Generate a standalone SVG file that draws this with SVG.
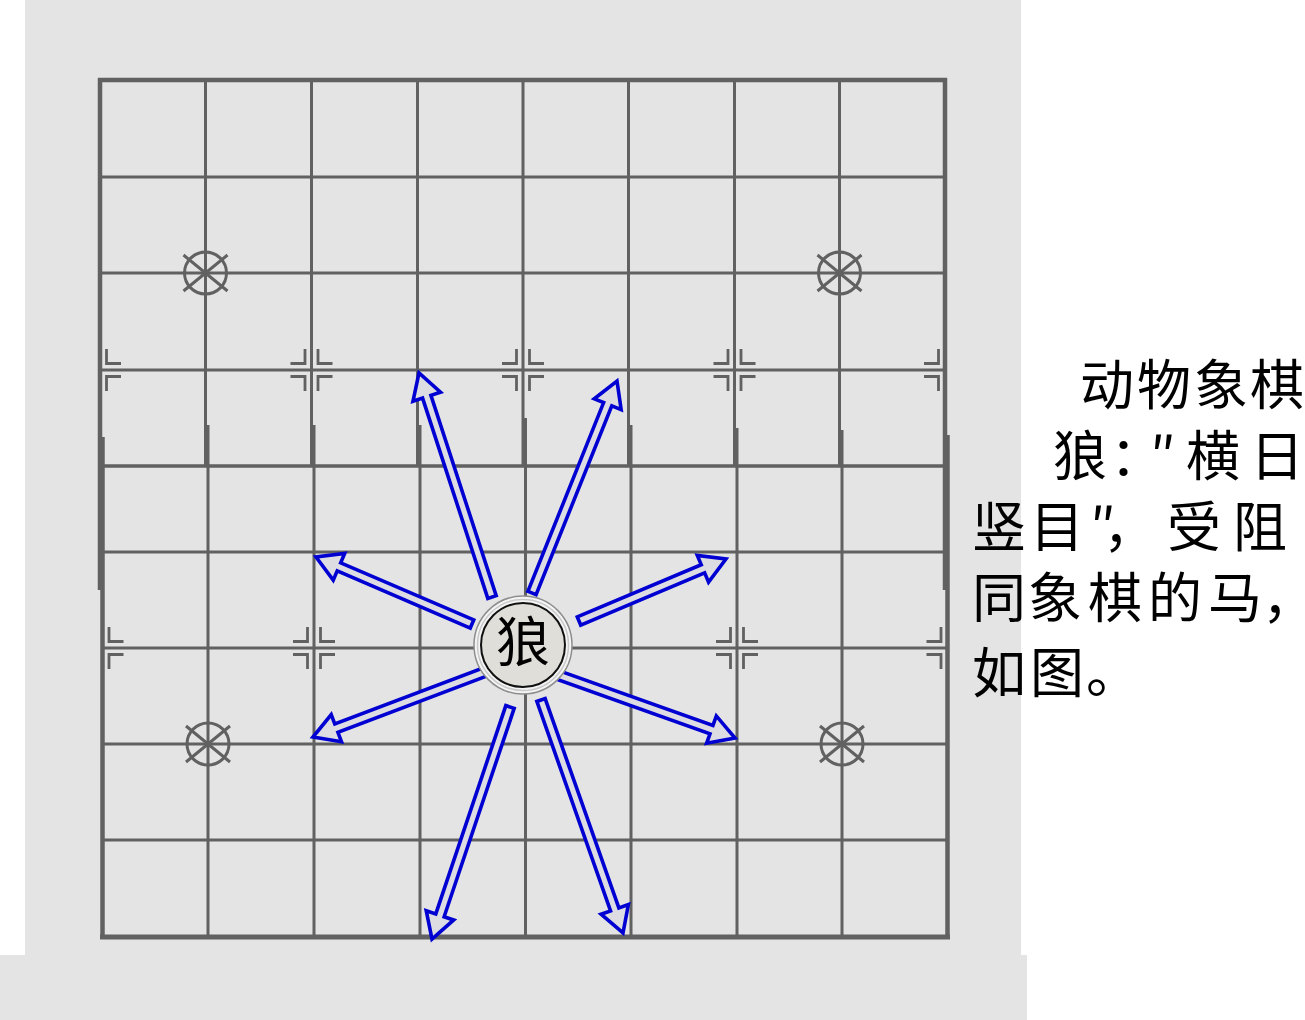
<svg xmlns="http://www.w3.org/2000/svg" xmlns:xlink="http://www.w3.org/1999/xlink" width="1305" height="1020" viewBox="0 0 1305 1020">
<style>
.g{stroke:#616161;stroke-width:3;fill:none}
.bd{stroke:#616161;stroke-width:4.5;fill:none}
.mk{stroke:#616161;stroke-width:2.8;fill:none}
.arr{fill:#dcdce2;stroke:#0000d2;stroke-width:3.6;stroke-linejoin:miter}
.t{font-family:"Noto Sans CJK SC","Noto Sans CJK TC",sans-serif;font-size:54px;fill:#000}
</style>
<defs>
<path id="mR" class="mk" d="M6.5,-21 V-6.5 H21 M6.5,21 V6.5 H21"/>
<path id="mL" class="mk" d="M-6.5,-21 V-6.5 H-21 M-6.5,21 V6.5 H-21"/>
<g id="star" class="mk" style="stroke-width:3"><circle r="21"/><path d="M-22,-18 L22,18 M-22,18 L22,-18"/></g>
</defs>
<rect width="1305" height="1020" fill="#ffffff"/>
<rect x="25" y="0" width="996" height="956" fill="#e4e4e4"/>
<rect x="0" y="955" width="1027" height="65" fill="#e4e4e4"/>

<g id="board">
<path class="bd" d="M98,80 H947"/>
<path class="g" d="M100,177 H945 M100,273 H945 M100,370 H945"/>
<path class="g" style="stroke-width:3.5" d="M100,466 H947"/>
<path class="g" d="M205.5,80 V466 M311.5,80 V466 M417.5,80 V466 M523,80 V466 M628.5,80 V466 M734.5,80 V466 M839.5,80 V466"/>
<path class="bd" d="M100,78 V590 M945,78 V590"/>
<path class="g" d="M102.5,552 H947.5 M102.5,648 H947.5 M102.5,744 H947.5 M102.5,840 H947.5"/>
<path class="g" d="M208,425 V937 M314,425 V937 M420,425 V937 M525.5,418 V937 M631,425 V937 M737,428 V937 M842,430 V937"/>
<path class="bd" d="M102.5,437 V939 M947.5,435 V939"/>
<path class="bd" style="stroke-width:5" d="M100,937 H950"/>
<use xlink:href="#star" href="#star" x="205.5" y="273"/>
<use xlink:href="#star" href="#star" x="839.5" y="273"/>
<use xlink:href="#star" href="#star" x="208" y="744"/>
<use xlink:href="#star" href="#star" x="842" y="744"/>
<use xlink:href="#mR" href="#mR" x="100" y="370"/>
<use xlink:href="#mL" href="#mL" x="311.5" y="370"/>
<use xlink:href="#mR" href="#mR" x="311.5" y="370"/>
<use xlink:href="#mL" href="#mL" x="523" y="370"/>
<use xlink:href="#mR" href="#mR" x="523" y="370"/>
<use xlink:href="#mL" href="#mL" x="734.5" y="370"/>
<use xlink:href="#mR" href="#mR" x="734.5" y="370"/>
<use xlink:href="#mL" href="#mL" x="945" y="370"/>
<use xlink:href="#mR" href="#mR" x="102.5" y="648"/>
<use xlink:href="#mL" href="#mL" x="314" y="648"/>
<use xlink:href="#mR" href="#mR" x="314" y="648"/>
<use xlink:href="#mL" href="#mL" x="737" y="648"/>
<use xlink:href="#mR" href="#mR" x="737" y="648"/>
<use xlink:href="#mL" href="#mL" x="947.5" y="648"/>
</g>

<g id="connectors">
<polygon class="arr" transform="translate(492,597) rotate(-108.05)" points="0,-4.4 210.6,-4.4 210.6,-14.5 235.6,0 210.6,14.5 210.6,4.4 0,4.4"/>
<polygon class="arr" transform="translate(532,593) rotate(-68.15)" points="0,-4.4 203.4,-4.4 203.4,-14.5 228.4,0 203.4,14.5 203.4,4.4 0,4.4"/>
<polygon class="arr" transform="translate(472,624) rotate(-156.75)" points="0,-4.4 144.8,-4.4 144.8,-14.5 169.8,0 144.8,14.5 144.8,4.4 0,4.4"/>
<polygon class="arr" transform="translate(485,672) rotate(159.3)" points="0,-4.4 158.9,-4.4 158.9,-14.5 183.9,0 158.9,14.5 158.9,4.4 0,4.4"/>
<polygon class="arr" transform="translate(579,621) rotate(-22.87)" points="0,-4.4 134.5,-4.4 134.5,-14.5 159.5,0 134.5,14.5 134.5,4.4 0,4.4"/>
<polygon class="arr" transform="translate(558,675) rotate(19.59)" points="0,-4.4 162.9,-4.4 162.9,-14.5 187.9,0 162.9,14.5 162.9,4.4 0,4.4"/>
<polygon class="arr" transform="translate(510,707) rotate(108.58)" points="0,-4.4 219.8,-4.4 219.8,-14.5 244.8,0 219.8,14.5 219.8,4.4 0,4.4"/>
<polygon class="arr" transform="translate(541,700) rotate(70.61)" points="0,-4.4 222,-4.4 222,-14.5 247,0 222,14.5 222,4.4 0,4.4"/>
</g>

<g id="piece">
<circle cx="523" cy="645" r="49" fill="#f4f4f4" stroke="#8e8e8e" stroke-width="1.5"/>
<circle cx="523" cy="645" r="45.5" fill="none" stroke="#c8c8c8" stroke-width="1.5"/>
<circle cx="523" cy="645" r="42" fill="#e0ded8" stroke="#111111" stroke-width="2"/>
<text class="t" x="523" y="662" font-size="50" text-anchor="middle">狼</text>
</g>

<g id="caption">
<text class="t" x="1080 1137 1194 1250" y="405">动物象棋</text>
<text class="t" x="1053 1110 1150 1186 1250" y="476">狼：″横日</text>
<text class="t" x="972 1030 1090 1103 1167 1233" y="547">竖目″，受阻</text>
<text class="t" x="972 1028 1088 1148 1208 1262" y="618">同象棋的马，</text>
<text class="t" x="972 1030 1086" y="693">如图。</text>
</g>
</svg>
